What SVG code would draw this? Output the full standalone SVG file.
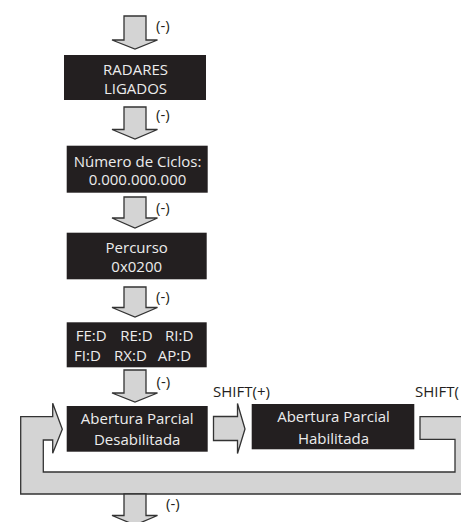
<svg xmlns="http://www.w3.org/2000/svg" width="461" height="522" viewBox="0 0 461 522">
<style>
.box{fill:#231f20}
.bt{fill:#ececec;font-family:"Open Sans","Liberation Sans",sans-serif;font-size:15px;text-anchor:middle}
.lbl{fill:#231f20;font-family:"Open Sans","Liberation Sans",sans-serif;font-size:15px}
.arr{fill:#d4d4d4;stroke:#333333;stroke-width:1.3;stroke-linejoin:miter}
</style>
<rect width="461" height="522" fill="#ffffff"/>
<g id="connectors">
<polygon class="arr" points="124,16 146,16 146,40 157.5,40 135,49 112,40 124,40"/>
<polygon class="arr" points="124,107 146,107 146,129.5 157.5,129.5 135,139 112,129.5 124,129.5"/>
<polygon class="arr" points="124,197 146,197 146,218 157.5,218 135,228 112,218 124,218"/>
<polygon class="arr" points="124,287 146,287 146,307.5 157.5,307.5 135,317 112,307.5 124,307.5"/>
<polygon class="arr" points="124,370 146,370 146,393 157.5,393 135,402 112,393 124,393"/>
<polygon class="arr" points="213.5,416.5 237.5,416.5 237.5,403.5 245,429 237.5,453.5 237.5,440.5 213.5,440.5"/>
<polygon class="arr" points="420,416.7 470,416.7 470,494 20.7,494 20.7,416.7 52.7,416.7 52.7,403.3 62.3,429.3 52.7,453.3 52.7,440 43.3,440 43.3,472 455,472 455,439.3 420,439.3"/>
<polygon class="arr" points="124,494 146,494 146,515.5 157.5,515.5 135,525 112,515.5 124,515.5"/>
<text class="lbl" x="156" y="30.5">(-)</text>
<text class="lbl" x="156" y="120">(-)</text>
<text class="lbl" x="156" y="213">(-)</text>
<text class="lbl" x="156" y="302">(-)</text>
<text class="lbl" x="156.5" y="386.5">(-)</text>
<text class="lbl" x="166" y="509">(-)</text>
<text class="lbl" x="213" y="396.5">SHIFT(+)</text>
<text class="lbl" x="415" y="396.5">SHIFT(</text>
</g>
<g id="radares">
<rect class="box" x="64" y="55" width="142" height="45"/>
<text class="bt" x="135.5" y="75">RADARES</text>
<text class="bt" x="135.5" y="94.3">LIGADOS</text>
</g>
<g id="ciclos">
<rect class="box" x="66.7" y="145.7" width="141" height="47"/>
<text class="bt" x="137.5" y="166.7">Número de Ciclos:</text>
<text class="bt" x="137.5" y="185.3">0.000.000.000</text>
</g>
<g id="percurso">
<rect class="box" x="66.7" y="232.7" width="140" height="46.6"/>
<text class="bt" x="136.7" y="252.7">Percurso</text>
<text class="bt" x="136.7" y="272.3">0x0200</text>
</g>
<g id="status">
<rect class="box" x="66.7" y="322.3" width="140" height="45"/>
<text class="bt" x="91.2" y="340.7">FE:D</text>
<text class="bt" x="136.5" y="340.7">RE:D</text>
<text class="bt" x="179.2" y="340.7">RI:D</text>
<text class="bt" x="87.4" y="361.3">FI:D</text>
<text class="bt" x="130.4" y="361.3">RX:D</text>
<text class="bt" x="174.4" y="361.3">AP:D</text>
</g>
<g id="desabilitada">
<rect class="box" x="66.7" y="406" width="141" height="45.7"/>
<text class="bt" x="137.2" y="424.3">Abertura Parcial</text>
<text class="bt" x="137.2" y="445">Desabilitada</text>
</g>
<g id="habilitada">
<rect class="box" x="251.7" y="404" width="162.6" height="45.3"/>
<text class="bt" x="333.5" y="422">Abertura Parcial</text>
<text class="bt" x="333.5" y="444">Habilitada</text>
</g>
</svg>
